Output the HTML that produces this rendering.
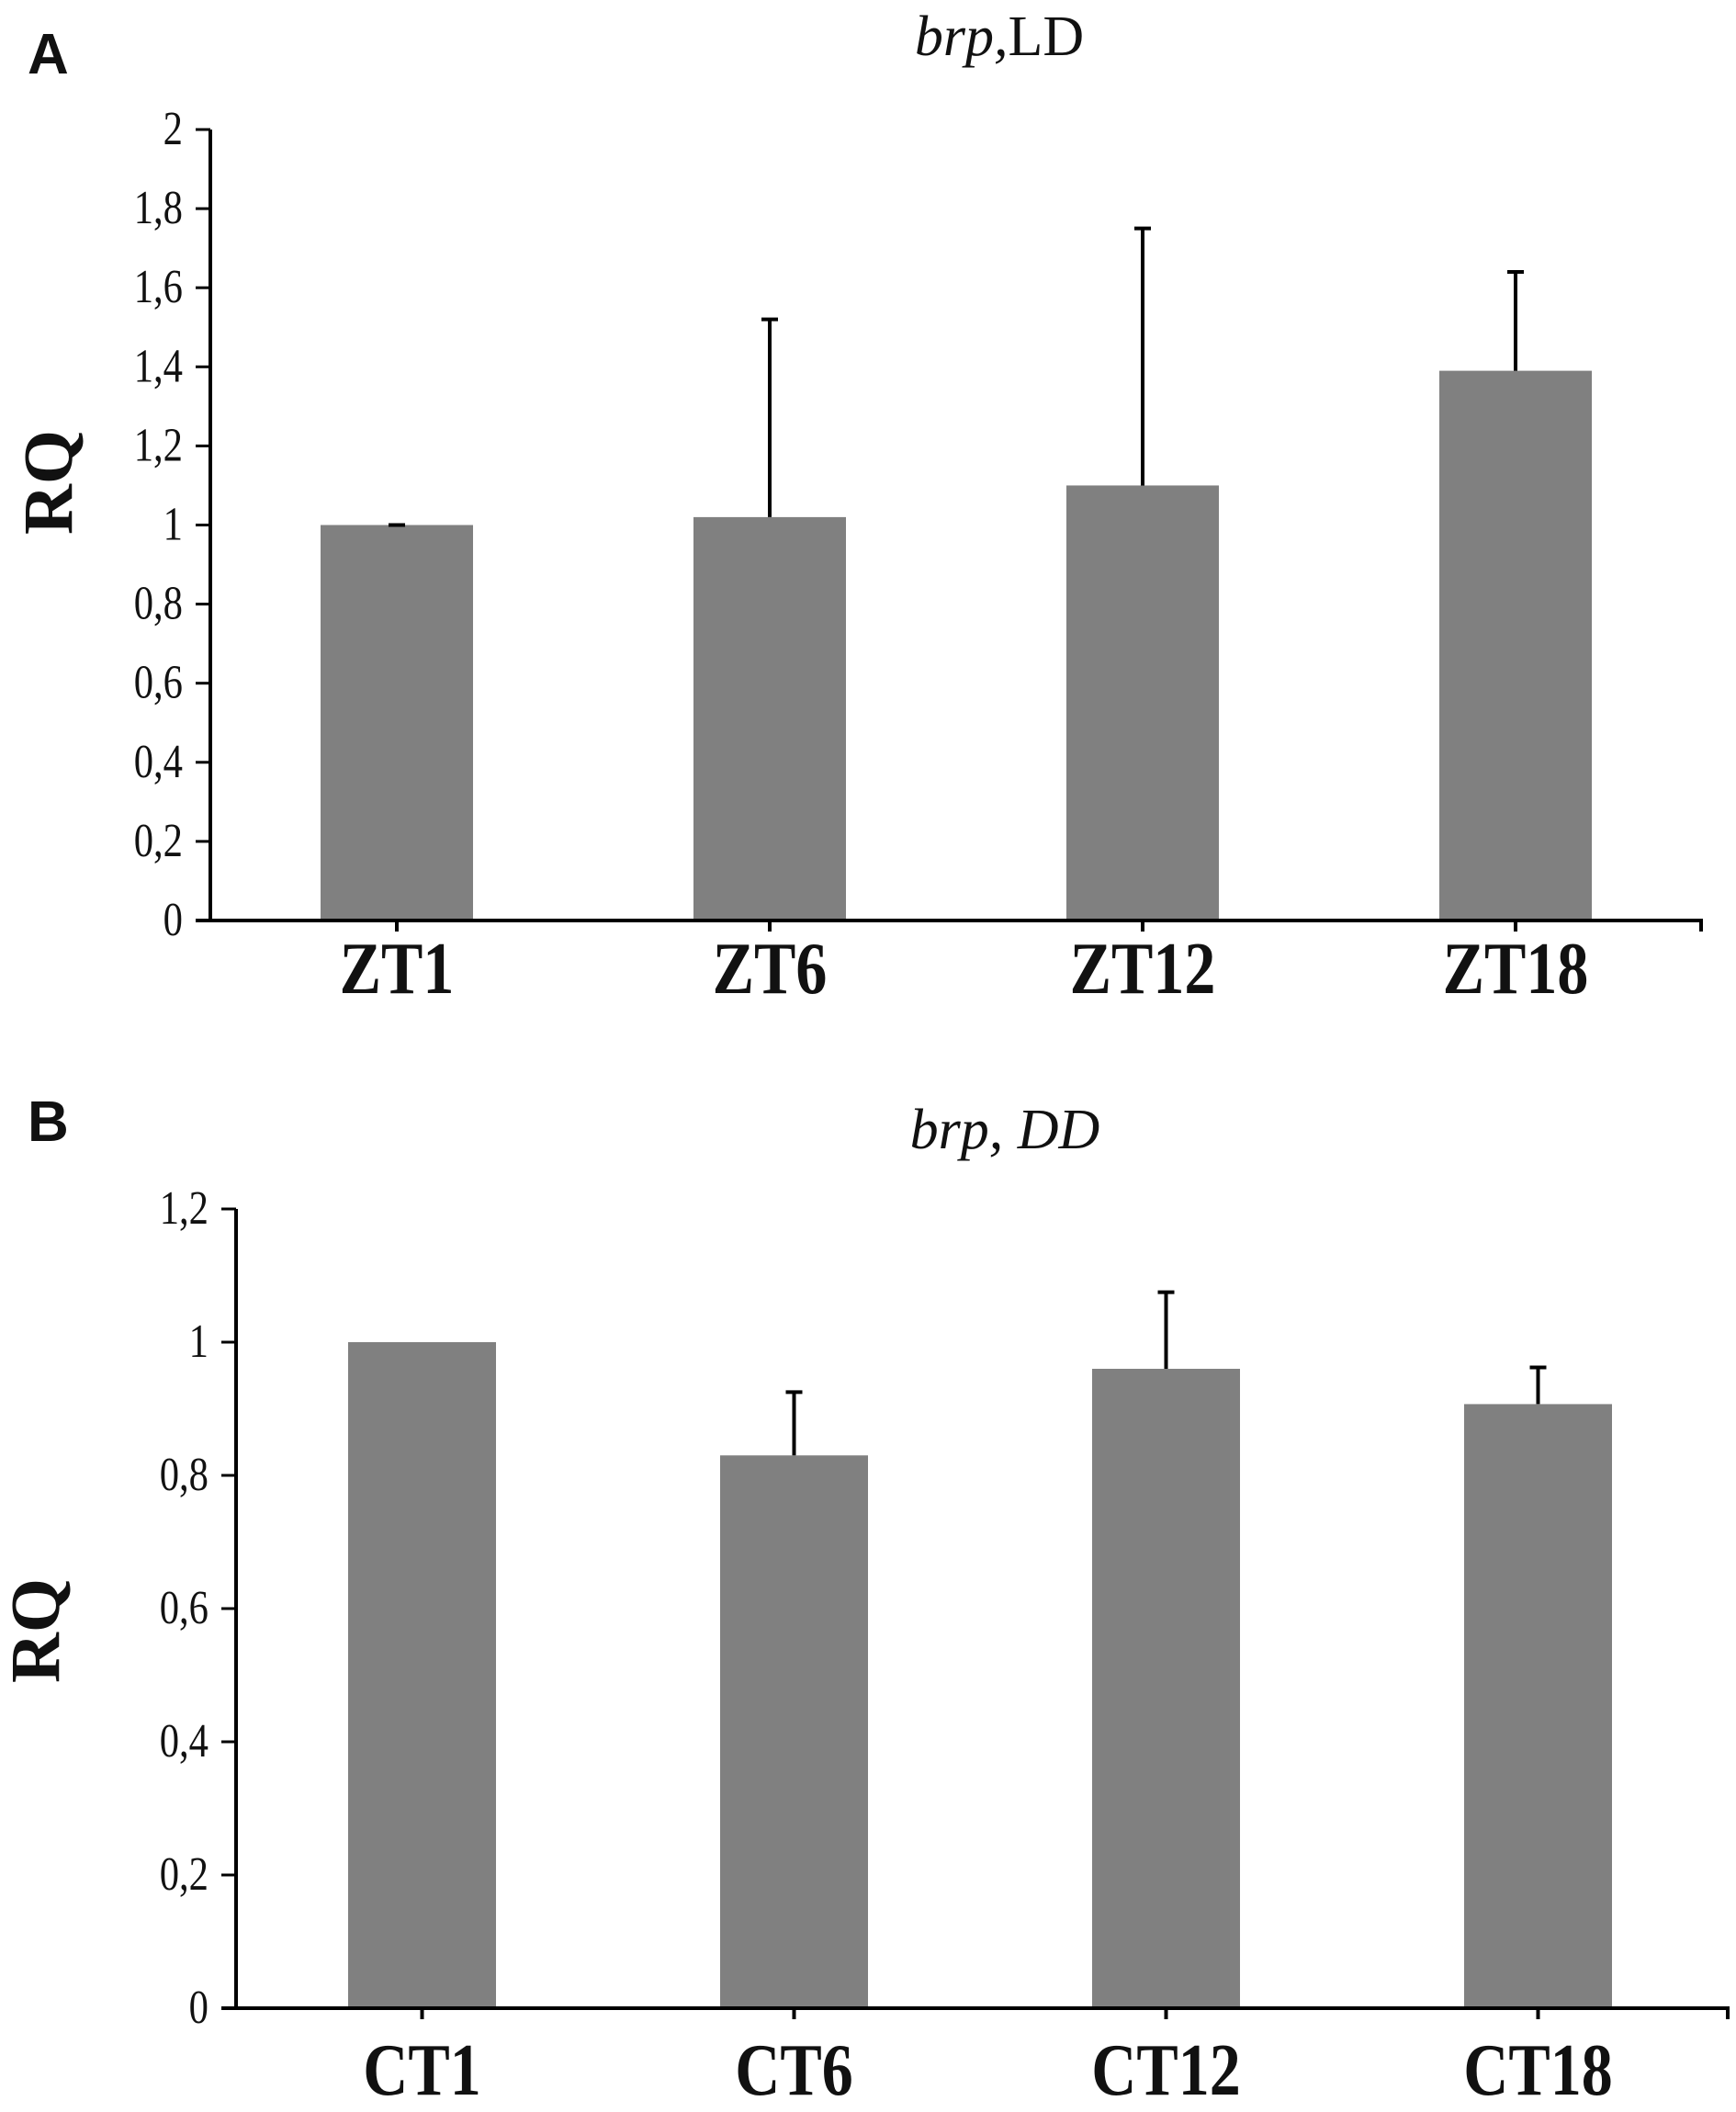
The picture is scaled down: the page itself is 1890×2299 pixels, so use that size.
<!DOCTYPE html>
<html><head><meta charset="utf-8"><style>
body{margin:0;background:#fff}
svg text{font-family:"Liberation Serif",serif;fill:#111}
</style></head><body>
<svg id="c" width="1890" height="2294" xmlns="http://www.w3.org/2000/svg"></svg>
<script>
const catsA=["ZT1","ZT6","ZT12","ZT18"];
const valsA=[1.0,1.02,1.10,1.39];
const errA=[0.0,0.50,0.65,0.25];
const ticksA=["0","0,2","0,4","0,6","0,8","1","1,2","1,4","1,6","1,8","2"];
const catsB=["CT1","CT6","CT12","CT18"];
const valsB=[1.0,0.83,0.96,0.907];
const errB=[0.0,0.095,0.115,0.055];
const ticksB=["0","0,2","0,4","0,6","0,8","1","1,2"];
const NS="http://www.w3.org/2000/svg";
const svg=document.getElementById('c');
function mk(t,a,p){const e=document.createElementNS(NS,t);for(const k in a)e.setAttribute(k,a[k]);(p||svg).appendChild(e);return e;}
function panel(o){
  const g=mk('g',{});
  
  
  const y=v=>o.y0-(v/o.max)*(o.y0-o.yTop);
  const band=o.band;
  const xc=i=>o.x0+band*(i+0.5);
  const L=mk('text',{x:o.lx,y:o.ly,'font-size':62,'font-weight':'bold',style:'font-family:"Liberation Sans",sans-serif'},g);L.textContent=o.letter;
  
  
  const T=mk('text',{x:o.tx,y:o.ty,'font-size':62,'text-anchor':'middle','font-style':'italic'},g);
  
  
  T.innerHTML=o.title;
  const R=mk('text',{x:0,y:0,'font-size':76,'font-weight':'bold','text-anchor':'middle',transform:`translate(${o.rqx},${o.rqy}) rotate(-90)`},g);R.textContent='RQ';
  
  
  o.vals.forEach((v,i)=>{
    const b=mk('rect',{x:xc(i)-o.bw/2,y:y(v),width:o.bw,height:o.y0-y(v),fill:'#808080'},g);
    
    
    if(o.err[i]>0){
      const e=mk('path',{d:`M${xc(i)},${y(v)}V${y(v+o.err[i])}M${xc(i)-9},${y(v+o.err[i])}H${xc(i)+9}`,stroke:'#000','stroke-width':4,fill:'none'},g);
      
      
    } else if(o.cap0){
      const e=mk('path',{d:`M${xc(i)-9},${y(v)}H${xc(i)+9}`,stroke:'#000','stroke-width':4},g);
      
      
    }
    const t=mk('text',{x:0,y:0,'font-size':80,'font-weight':'bold','text-anchor':'middle',transform:`translate(${xc(i)},${o.cly}) scale(0.85,1)`},g);t.textContent=o.cats[i];
    
    
    const tk=mk('line',{x1:xc(i),x2:xc(i),y1:o.y0,y2:o.y0+12,stroke:'#000','stroke-width':4},g);
    
    
  });
  const ax=mk('path',{d:`M${o.x0},${o.yTop}V${o.y0}M${o.x0-16},${o.y0}H${o.xEnd}V${o.y0+12}`,stroke:'#000','stroke-width':4,fill:'none'},g);
  
  
  o.ticks.forEach((lab,i)=>{
    const v=i*o.step;
    const tl=mk('line',{x1:o.x0-16,x2:o.x0,y1:y(v),y2:y(v),stroke:'#000','stroke-width':3},g);
    
    
    const t=mk('text',{x:0,y:0,'font-size':52,'text-anchor':'end',transform:`translate(${o.x0-30},${y(v)+16}) scale(0.82,1)`},g);t.textContent=lab;
    
    
  });
}
panel({name:'panel-a-chart',letter:'A',lx:30,ly:80,title:'brp,<tspan font-style="normal">LD</tspan>',tx:1088,ty:60,rqx:78,rqy:525,
  cats:catsA,vals:valsA,err:errA,ticks:ticksA,step:0.2,max:2,x0:229,xEnd:1852,y0:1002,yTop:141,band:406,bw:166,cly:1081,cap0:true});
panel({name:'panel-b-chart',letter:'B',lx:30,ly:1242,title:'brp, DD',tx:1094,ty:1250,rqx:64,rqy:1775,
  cats:catsB,vals:valsB,err:errB,ticks:ticksB,step:0.2,max:1.2,x0:257,xEnd:1881,y0:2186,yTop:1316,band:405,bw:161,cly:2280,cap0:false});
</script>
</body></html>
